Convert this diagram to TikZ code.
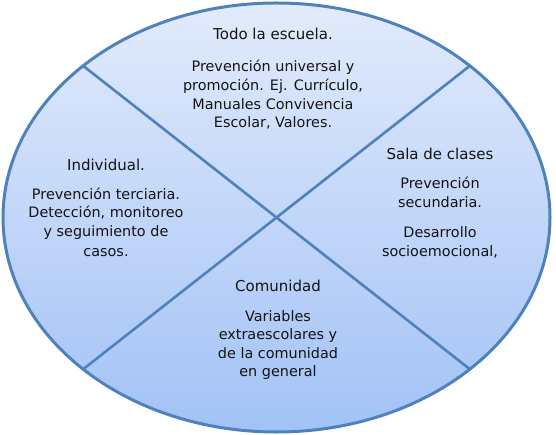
\documentclass[tikz,border=0pt]{standalone}
\usepackage{fontspec}
\setmainfont{DejaVu Sans}
\definecolor{edgec}{RGB}{79,129,189}
\definecolor{topc}{RGB}{226,235,252}
\definecolor{botc}{RGB}{162,194,246}
\definecolor{txtc}{RGB}{20,20,20}
\tikzset{
  txt/.style={font=\fontsize{14.4}{17}\selectfont, inner sep=0pt, anchor=base, text=txtc},
  hd/.style={txt, font=\fontsize{15}{18}\selectfont},
  divider/.style={draw=edgec, line width=2.6pt},
}
\begin{document}
\begin{tikzpicture}[x=1pt,y=-1pt]
\useasboundingbox (0,0) rectangle (556,435);
\shade[top color=topc, bottom color=botc, draw=edgec, line width=3pt]
  (276.5,217.5) ellipse [x radius=273.5, y radius=214.5];
\coordinate (ul) at (83.1,65.8);
\coordinate (ur) at (469.9,65.8);
\coordinate (ll) at (83.1,369.2);
\coordinate (lr) at (469.9,369.2);
\draw[divider] (ul) -- (lr);
\draw[divider] (ur) -- (ll);
% top
\node[hd] (t0) at (273,40) {Todo la escuela.};
\node[txt] (t1) at (273,71.7) {Prevención universal y};
\node[txt] (t2) at (273,90.4) {promoción. Ej. Currículo,};
\node[txt] (t3) at (273,109.1) {Manuales Convivencia};
\node[txt] (t4) at (273,127.8) {Escolar, Valores.};
% right
\node[hd] (s0) at (440,160) {Sala de clases};
\node[txt] (s1) at (440,189) {Prevención};
\node[txt] (s2) at (440,208) {secundaria.};
\node[txt] (s3) at (440,237.7) {Desarrollo};
\node[txt] (s4) at (440,256.7) {socioemocional,};
% left
\node[hd] (i0) at (106,170.7) {Individual.};
\node[txt] (i1) at (106,199.3) {Prevención terciaria.};
\node[txt] (i2) at (106,218) {Detección, monitoreo};
\node[txt] (i3) at (106,236.9) {y seguimiento de};
\node[txt] (i4) at (106,256.2) {casos.};
% bottom
\node[hd] (c0) at (278,291) {Comunidad};
\node[txt] (c1) at (278,321) {Variables};
\node[txt] (c2) at (278,339.5) {extraescolares y};
\node[txt] (c3) at (278,358.2) {de la comunidad};
\node[txt] (c4) at (278,376.9) {en general};
\end{tikzpicture}
\end{document}
